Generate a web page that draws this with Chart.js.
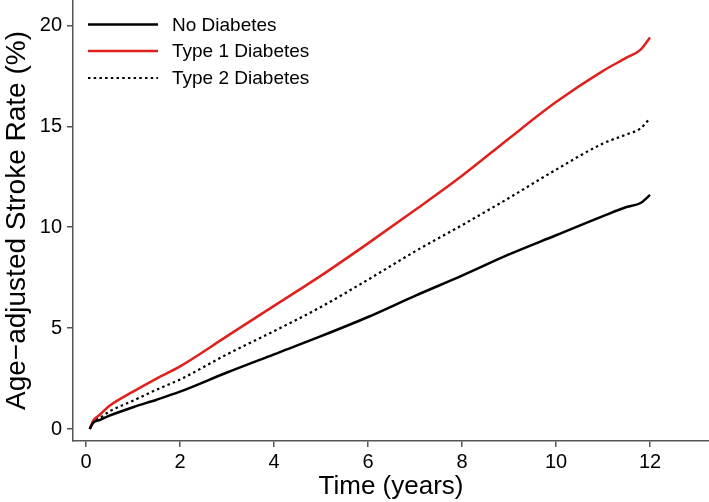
<!DOCTYPE html>
<html>
<head>
<meta charset="utf-8">
<script src="https://cdn.jsdelivr.net/npm/chart.js@4"></script>
<style>
  html, body { margin:0; padding:0; background:#fff; }
  #wrap { width:709px; height:502px; }
</style>
</head>
<body>
<div id="wrap"><canvas id="chart" width="709" height="502"></canvas></div>
<script>
// values
const years      = [0.08, 0.15, 0.3, 0.5, 1, 1.5, 2, 3, 4, 5, 6, 7, 8, 9, 10, 11, 11.5, 11.8, 12];
const noDiabetes = [0, 0.3, 0.45, 0.66, 1.08, 1.45, 1.85, 2.8, 3.7, 4.6, 5.55, 6.6, 7.6, 8.65, 9.6, 10.55, 11.0, 11.2, 11.6];
const type1      = [0, 0.4, 0.72, 1.15, 1.85, 2.5, 3.1, 4.6, 6.1, 7.6, 9.2, 10.85, 12.55, 14.4, 16.2, 17.75, 18.4, 18.8, 19.4];
const type2      = [0, 0.35, 0.55, 0.87, 1.4, 1.95, 2.45, 3.7, 4.85, 6.05, 7.4, 8.8, 10.1, 11.45, 12.85, 14.15, 14.6, 14.9, 15.4];

const xTicks = [0, 2, 4, 6, 8, 10, 12];
const yTicks = [0, 5, 10, 15, 20];
const seriesNames = ['No Diabetes', 'Type 1 Diabetes', 'Type 2 Diabetes'];

const FONT = 'Liberation Sans, Arial, Helvetica, sans-serif';
const AXIS = '#555';

const pts = arr => years.map((t, i) => ({x: t, y: arr[i]}));

// legend drawn inside the plot, top-left
const innerLegend = {
  id: 'innerLegend',
  afterDraw(chart) {
    const c = chart.ctx;
    const rows = [24.5, 51, 78];
    c.save();
    c.font = '19px ' + FONT;
    c.textBaseline = 'middle';
    c.fillStyle = '#000';
    chart.data.datasets.forEach((ds, i) => {
      c.beginPath();
      c.strokeStyle = ds.borderColor;
      c.lineWidth = ds.borderWidth;
      c.setLineDash(ds.borderDash || []);
      c.moveTo(88, rows[i]);
      c.lineTo(158, rows[i]);
      c.stroke();
      c.setLineDash([]);
      c.fillText(ds.label, 172, rows[i] + 1);
    });
    c.restore();
  }
};

const ctx = document.getElementById('chart').getContext('2d');
new Chart(ctx, {
  type: 'line',
  data: {
    datasets: [
      {label: seriesNames[0], data: pts(noDiabetes), borderColor: '#000', borderWidth: 2.5, pointRadius: 0, cubicInterpolationMode: 'monotone'},
      {label: seriesNames[1], data: pts(type1), borderColor: '#e0201c', borderWidth: 2.5, pointRadius: 0, cubicInterpolationMode: 'monotone'},
      {label: seriesNames[2], data: pts(type2), borderColor: '#000', borderWidth: 2.2, borderDash: [2.5, 3.2], pointRadius: 0, cubicInterpolationMode: 'monotone'}
    ]
  },
  options: {
    responsive: false,
    animation: false,
    devicePixelRatio: 1,
    layout: {padding: 0},
    plugins: {legend: {display: false}, tooltip: {enabled: false}},
    scales: {
      x: {
        type: 'linear',
        min: -0.277, max: 13.255,
        afterBuildTicks: s => { s.ticks = xTicks.map(v => ({value: v})); },
        afterFit: s => { s.height = 61; s.paddingLeft = 0; s.paddingRight = 0; },
        grid: {drawOnChartArea: false, drawTicks: true, tickLength: 6, color: AXIS, lineWidth: 1.5},
        border: {display: true, color: AXIS, width: 1.5},
        ticks: {color: '#000', font: {family: FONT, size: 20}, padding: 3, maxRotation: 0},
        title: {display: true, text: 'Time (years)', color: '#000', font: {family: FONT, size: 26}, padding: 0}
      },
      y: {
        min: -0.595, max: 21.26,
        afterBuildTicks: s => { s.ticks = yTicks.map(v => ({value: v})); },
        afterFit: s => { s.width = 73; s.paddingTop = 0; s.paddingBottom = 0; },
        grid: {drawOnChartArea: false, drawTicks: true, tickLength: 6, color: AXIS, lineWidth: 1.5},
        border: {display: true, color: AXIS, width: 1.5},
        ticks: {color: '#000', font: {family: FONT, size: 20}, padding: 5},
        title: {display: true, text: 'Age\u2212adjusted Stroke Rate (%)', color: '#000', font: {family: FONT, size: 28}, padding: 0}
      }
    }
  },
  plugins: [innerLegend]
});
</script>
</body>
</html>
